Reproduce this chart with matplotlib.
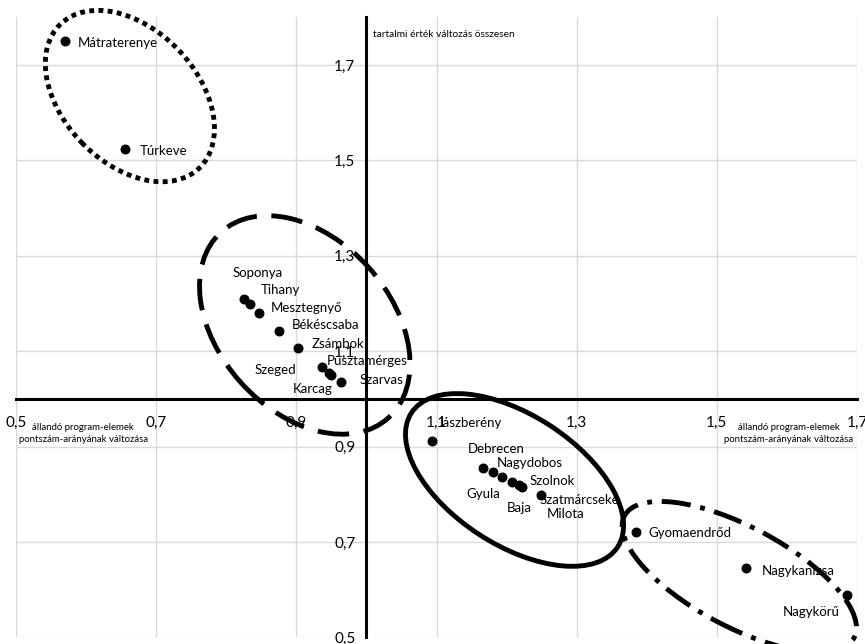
import matplotlib.pyplot as plt
import matplotlib.transforms as mtransforms
from matplotlib.patches import Ellipse

plt.rcParams['font.family'] = ['Lato', 'DejaVu Sans']

# telepulesek es ertekeik
names = ['Mátraterenye', 'Túrkeve', 'Soponya', 'Tihany', 'Mesztegnyő', 'Békéscsaba',
         'Zsámbok', 'Szeged', 'Pusztamérges', 'Karcag', 'Szarvas', 'Jászberény',
         'Debrecen', 'Nagydobos', 'Gyula', 'Baja', 'Szolnok', 'Szatmárcseke', 'Milota',
         'Gyomaendrőd', 'Nagykanizsa', 'Nagykörű']
x_vals = [0.570, 0.656, 0.825, 0.834, 0.846, 0.875, 0.903, 0.937, 0.947, 0.949, 0.964,
          1.094, 1.166, 1.181, 1.193, 1.208, 1.217, 1.222, 1.249, 1.384, 1.542, 1.686]
y_vals = [1.751, 1.523, 1.210, 1.199, 1.181, 1.142, 1.107, 1.066, 1.055, 1.051, 1.036,
          0.912, 0.855, 0.847, 0.837, 0.826, 0.820, 0.816, 0.799, 0.720, 0.645, 0.589]

ticks = [0.5, 0.7, 0.9, 1.1, 1.3, 1.5, 1.7]
tick_labels = ['0,5', '0,7', '0,9', '1,1', '1,3', '1,5', '1,7']

x_title = 'állandó program-elemek\npontszám-arányának változása'
y_title = 'tartalmi érték változás összesen'

# felirat eltolasok (pixel) es igazitas
label_offsets = [(13, -2, 'left'), (14, -2, 'left'), (14, 26, 'center'), (30, 14, 'center'),
                 (12, 5, 'left'), (13, 6, 'left'), (13, 4, 'left'), (-26, -3, 'right'),
                 (-3, 12, 'left'), (-18, -14, 'center'), (18, 2, 'left'), (5, 18, 'left'),
                 (13, 19, 'center'), (3, 9, 'left'), (-18, -17, 'center'), (7, -26, 'center'),
                 (11, 4, 'left'), (18, -13, 'left'), (25, -19, 'center'), (13, -1, 'left'),
                 (15, -3, 'left'), (-36, -17, 'center')]

# csoport ellipszisek: kozeppont (adat), tengelyek (pixel), szog, vonalstilus
groups = [
    ((0.6625, 1.635), 200, 134, -46, (0, (1.0, 0.9))),
    ((0.912, 1.155), 250, 172, -48, (0, (6.5, 3))),
    ((1.2113, 0.830), 246, 130, -33, 'solid'),
    ((1.532, 0.627), 260, 100, -28, (0, (6, 2, 1, 2))),
]

fig = plt.figure(figsize=(8.65, 6.44), dpi=100)
ax = fig.add_axes([0.0185, 0.0104, 0.9723, 0.9626])
ax.set_xlim(0.5, 1.7)
ax.set_ylim(0.5, 1.80)

ax.set_xticks(ticks)
ax.set_xticklabels(tick_labels)
ax.set_yticks(ticks)
ax.set_yticklabels(tick_labels)
ax.grid(color='#d9d9d9', lw=1)
ax.set_axisbelow(True)

for s in ['top', 'right']:
    ax.spines[s].set_visible(False)
ax.spines['left'].set_position(('data', 1.0))
ax.spines['bottom'].set_position(('data', 1.0))
for s in ['left', 'bottom']:
    ax.spines[s].set_linewidth(2.2)
    ax.spines[s].set_color('black')
    ax.spines[s].set_zorder(1.5)
ax.tick_params(axis='x', length=0, pad=12.5, labelsize=11)
ax.tick_params(axis='y', length=0, pad=8, labelsize=11)

ax.scatter(x_vals, y_vals, s=38, color='black', zorder=3)

for name, x, y, (dx, dy, ha) in zip(names, x_vals, y_vals, label_offsets):
    ax.annotate(name, (x, y), xytext=(dx, dy), textcoords='offset pixels',
                ha=ha, va='center', fontsize=9.5, zorder=4)

for (cx, cy), w, h, ang, ls in groups:
    tr = fig.dpi_scale_trans + mtransforms.ScaledTranslation(cx, cy, ax.transData)
    e = Ellipse((0, 0), w / 100, h / 100, angle=ang, transform=tr, fill=False,
                edgecolor='black', lw=3.5, linestyle=ls, clip_on=False, zorder=2)
    e.set_capstyle('butt')
    ax.add_patch(e)

ax.text(0.08, 0.927, x_title, transform=ax.get_yaxis_transform(),
        ha='center', va='center', fontsize=6.9, linespacing=1.5)
ax.text(0.919, 0.927, x_title, transform=ax.get_yaxis_transform(),
        ha='center', va='center', fontsize=6.9, linespacing=1.5)
ax.annotate(y_title, (1.0, 1.80), xytext=(7, -17), textcoords='offset pixels',
            ha='left', va='center', fontsize=7.3)

fig.savefig('out.png', dpi=100)
